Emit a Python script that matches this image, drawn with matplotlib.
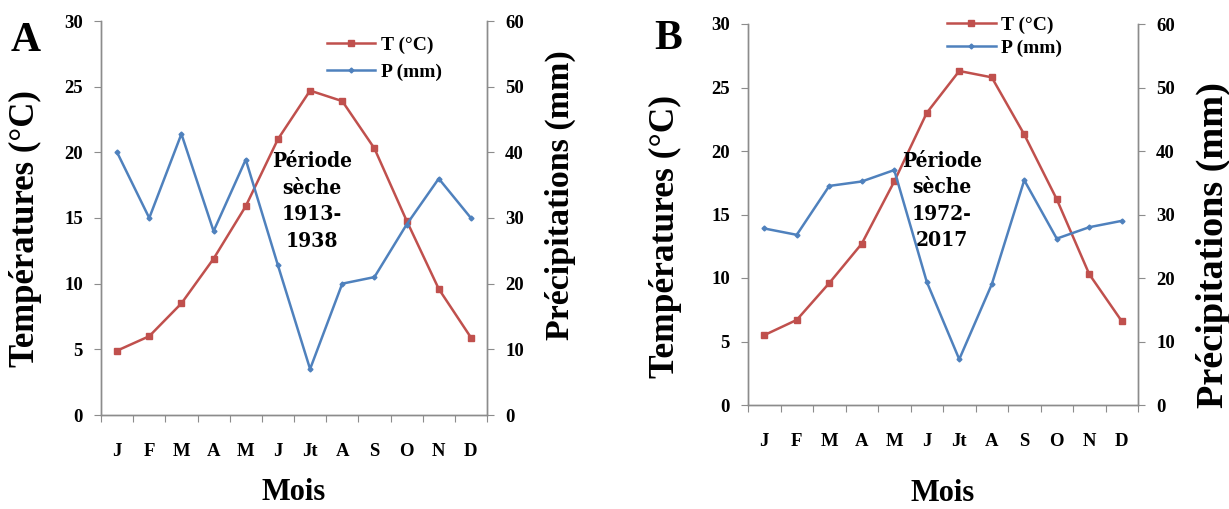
import matplotlib
matplotlib.use("Agg")
import matplotlib.pyplot as plt
import numpy as np

plt.rcParams['font.family'] = ['Liberation Serif', 'DejaVu Serif']
plt.rcParams['font.weight'] = 'bold'

months = ['J', 'F', 'M', 'A', 'M', 'J', 'Jt', 'A', 'S', 'O', 'N', 'D']

# A : 1913-1938
temp_a = [4.9, 6.0, 8.5, 11.9, 15.9, 21.0, 24.7, 23.9, 20.3, 14.8, 9.6, 5.9]
prec_a = [40, 30, 42.8, 28, 38.9, 22.8, 7, 20, 21, 29, 36, 30]
# B : 1972-2017
temp_b = [5.5, 6.7, 9.6, 12.7, 17.6, 23.0, 26.3, 25.8, 21.3, 16.2, 10.3, 6.6]
prec_b = [27.8, 26.8, 34.5, 35.2, 37.0, 19.4, 7.2, 19.0, 35.4, 26.2, 28.0, 29.0]

red = '#C0504D'
blue = '#4F81BD'
grey = '#8C8C8C'

fig = plt.figure(figsize=(12.29, 5.09), dpi=100)


def panel(rect, temp, prec, letter, letter_xy, period, txt_xy, leg_xy, leg_space,
          ylab_pos, yrlab_pos, ylab_fs, yrlab_fs, mois_y):
    ax = fig.add_axes(rect)
    ax2 = ax.twinx()
    x = np.arange(len(months))
    l1, = ax.plot(x, temp, color=red, lw=1.8, marker='s', ms=4.5)
    l2, = ax2.plot(x, prec, color=blue, lw=1.8, marker='D', ms=2.5)

    ax.set_xlim(-0.5, 11.5)
    ax.set_ylim(0, 30)
    ax2.set_ylim(0, 60)
    ax.set_yticks(np.arange(0, 31, 5))
    ax2.set_yticks(np.arange(0, 61, 10))
    ax.set_xticks(np.arange(-0.5, 12, 1))
    ax.set_xticklabels([])
    ax.set_xticks(x, minor=True)
    ax.set_xticklabels(months, minor=True)
    ax.tick_params(axis='x', which='major', length=5, color=grey, direction='out')
    ax.tick_params(axis='x', which='minor', length=0, pad=20, labelsize=13.5)
    ax.tick_params(axis='y', length=5, color=grey, pad=8, labelsize=13.5)
    ax2.tick_params(axis='y', length=5, color=grey, pad=8, labelsize=13.5)

    for a in (ax, ax2):
        a.spines['top'].set_visible(False)
        for s in ('left', 'right', 'bottom'):
            a.spines[s].set_color(grey)
            a.spines[s].set_linewidth(1.0)

    ax.set_ylabel('Températures (°C)', fontsize=ylab_fs, fontweight='bold')
    ax.yaxis.set_label_coords(*ylab_pos)
    ax2.set_ylabel('Précipitations (mm)', fontsize=yrlab_fs, fontweight='bold')
    ax2.yaxis.set_label_coords(*yrlab_pos)
    ax.set_xlabel('Mois', fontsize=22, fontweight='bold')
    ax.xaxis.set_label_coords(0.5, mois_y)

    ax.text(letter_xy[0], letter_xy[1], letter, transform=ax.transAxes, fontsize=30,
            fontweight='bold', ha='center', va='top')

    ax.text(txt_xy[0], txt_xy[1], period, ha='center', va='center',
            fontsize=15, fontweight='bold', family='DejaVu Serif',
            fontstretch='condensed', linespacing=1.4)

    ax.legend([l1, l2], ['T (°C)', 'P (mm)'], loc='upper left',
              bbox_to_anchor=leg_xy, frameon=False, fontsize=14,
              handlelength=2.5, handletextpad=0.3, borderpad=0,
              borderaxespad=0, labelspacing=leg_space)
    return ax


panel([101 / 1229, 1 - 415 / 509, 386 / 1229, 394 / 509], temp_a, prec_a,
      'A', (-0.194, 0.997),
      'Période\nsèche\n1913-\n1938', (6.06, 16.3), (0.585, 0.962), 0.5,
      (-0.153, 0.472), (1.150, 0.558), 25, 24.5, -0.16)

panel([748 / 1229, 1 - 405 / 509, 390 / 1229, 381 / 509], temp_b, prec_b,
      'B', (-0.205, 1.01),
      'Période\nsèche\n1972-\n2017', (5.47, 16.1), (0.51, 1.02), 0.25,
      (-0.169, 0.441), (1.148, 0.42), 25.5, 27.5, -0.195)

fig.savefig('out.png', dpi=100)
